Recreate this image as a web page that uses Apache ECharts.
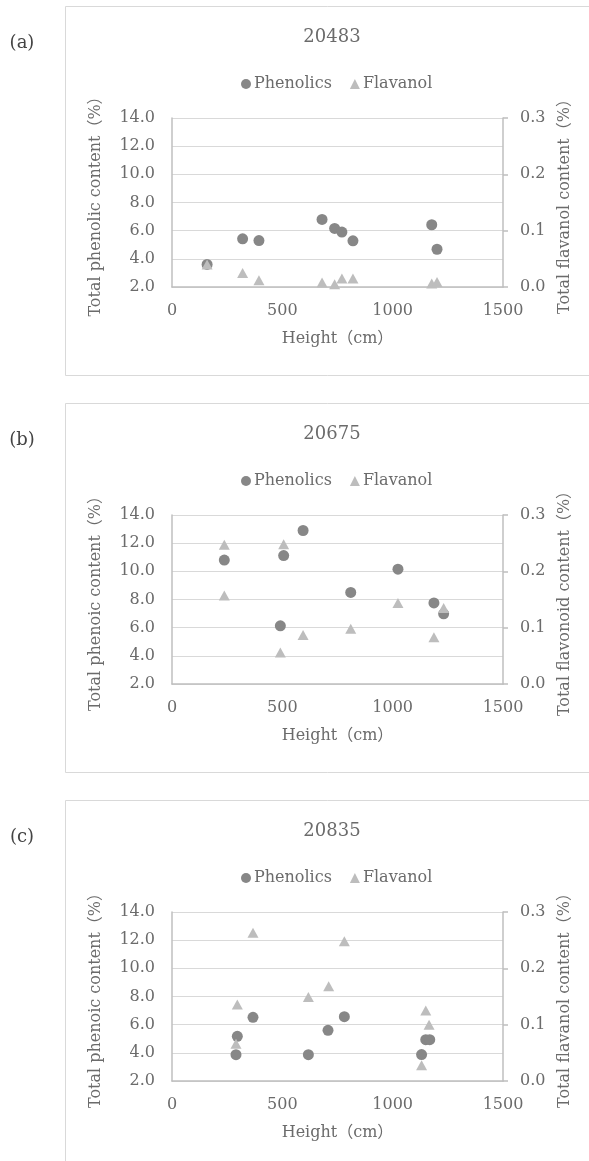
<!DOCTYPE html>
<html>
<head>
<meta charset="utf-8">
<script src="https://cdn.jsdelivr.net/npm/echarts@6/dist/echarts.min.js"></script>
<style>
html,body{margin:0;padding:0;background:#fff;}
#chart{width:589px;height:1161px;}
</style>
</head>
<body>
<div id="chart"></div>
<script>
// ---- data ----
const panelLabels = ['(a)', '(b)', '(c)'];
const panelTitles = ['20483', '20675', '20835'];
const leftAxisNames = ['Total phenolic content（%）', 'Total phenoic content（%）', 'Total phenoic content（%）'];
const rightAxisNames = ['Total flavanol content（%）', 'Total flavonoid content（%）', 'Total flavanol content（%）'];
const xAxisName = 'Height（cm）';
const seriesNames = ['Phenolics', 'Flavanol'];

const xTicks = [0, 500, 1000, 1500];
const leftTicks = ['2.0', '4.0', '6.0', '8.0', '10.0', '12.0', '14.0'];
const rightTicks = ['0.0', '0.1', '0.2', '0.3'];

// (a) 20483
const heightsPhenA = [159, 320, 394, 680, 737, 770, 820, 1177, 1201];
const phenolicsA   = [3.6, 5.42, 5.3, 6.8, 6.16, 5.9, 5.28, 6.42, 4.68];
const heightsFlavA = [159, 320, 394, 680, 737, 770, 820, 1177, 1201];
const flavanolA    = [0.040, 0.025, 0.012, 0.008, 0.005, 0.015, 0.015, 0.006, 0.009];

// (b) 20675
const heightsPhenB = [237, 491, 506, 594, 810, 1024, 1187, 1231];
const phenolicsB   = [10.8, 6.13, 11.12, 12.9, 8.5, 10.15, 7.76, 6.98];
const heightsFlavB = [237, 237, 491, 506, 594, 810, 1024, 1187, 1231];
const flavanolB    = [0.247, 0.157, 0.056, 0.248, 0.087, 0.098, 0.144, 0.083, 0.135];

// (c) 20835
const heightsPhenC = [290, 296, 367, 618, 707, 781, 1131, 1150, 1168];
const phenolicsC   = [3.87, 5.17, 6.52, 3.87, 5.6, 6.57, 3.88, 4.93, 4.93];
const heightsFlavC = [290, 296, 367, 618, 710, 781, 1131, 1150, 1165];
const flavanolC    = [0.066, 0.136, 0.263, 0.149, 0.168, 0.248, 0.028, 0.125, 0.100];

const panels = [
  { hp: heightsPhenA, p: phenolicsA, hf: heightsFlavA, f: flavanolA },
  { hp: heightsPhenB, p: phenolicsB, hf: heightsFlavB, f: flavanolB },
  { hp: heightsPhenC, p: phenolicsC, hf: heightsFlavC, f: flavanolC }
];

// ---- styles ----
const FONT = "'DejaVu Serif', 'Noto Sans CJK JP', serif";
const TXT = '#6b6b6b';
const PHEN_COLOR = '#878787';
const FLAV_COLOR = '#bdbdbd';
const AXIS_COLOR = '#bfbfbf';
const GRID_COLOR = '#d9d9d9';
const STEP = 397;

const chart = echarts.init(document.getElementById('chart'), null, { renderer: 'canvas' });

const grids = [], xAxes = [], yAxes = [], series = [], legends = [], graphics = [];

panels.forEach((pn, i) => {
  const off = STEP * i;
  // frame
  graphics.push({
    type: 'rect', silent: true, z: -10,
    shape: { x: 65.5, y: 6.5 + off, width: 540, height: 369 },
    style: { fill: '#fff', stroke: GRID_COLOR, lineWidth: 1 }
  });
  graphics.push({
    type: 'text', silent: true,
    x: 22, y: 43 + off,
    style: { text: panelLabels[i], font: '18px ' + FONT, fill: '#444', align: 'center', verticalAlign: 'middle' }
  });
  graphics.push({
    type: 'text', silent: true,
    x: 332, y: 37 + off,
    style: { text: panelTitles[i], font: '18px ' + FONT, fill: TXT, align: 'center', verticalAlign: 'middle' }
  });

  grids.push({ left: 172, right: 86, top: 118 + off, height: 169, containLabel: false });

  const lMin = parseFloat(leftTicks[0]), lMax = parseFloat(leftTicks[leftTicks.length - 1]);
  const lInt = parseFloat(leftTicks[1]) - lMin;
  const rMin = parseFloat(rightTicks[0]), rMax = parseFloat(rightTicks[rightTicks.length - 1]);
  const rInt = parseFloat(rightTicks[1]) - rMin;

  xAxes.push({
    type: 'value', gridIndex: i,
    min: xTicks[0], max: xTicks[xTicks.length - 1], interval: xTicks[1] - xTicks[0],
    name: xAxisName, nameLocation: 'middle', nameGap: 44,
    nameTextStyle: { fontFamily: FONT, fontSize: 16, color: TXT },
    axisLine: { show: true, lineStyle: { color: AXIS_COLOR, width: 1.5 } },
    axisTick: { show: false },
    splitLine: { show: false },
    axisLabel: { fontFamily: FONT, fontSize: 16, color: TXT, margin: 16,
      formatter: v => String(v) }
  });
  yAxes.push({
    type: 'value', gridIndex: i, position: 'left',
    min: lMin, max: lMax, interval: lInt,
    name: leftAxisNames[i], nameLocation: 'middle', nameGap: 68,
    nameTextStyle: { fontFamily: FONT, fontSize: 16, color: TXT },
    axisLine: { show: true, lineStyle: { color: AXIS_COLOR, width: 1.5 } },
    axisTick: { show: false },
    splitLine: { show: true, lineStyle: { color: GRID_COLOR, width: 1 } },
    axisLabel: { fontFamily: FONT, fontSize: 16, color: TXT, margin: 17,
      formatter: v => v.toFixed(1) }
  });
  yAxes.push({
    type: 'value', gridIndex: i, position: 'right',
    min: rMin, max: rMax, interval: rInt,
    name: rightAxisNames[i], nameLocation: 'middle', nameGap: 53,
    nameTextStyle: { fontFamily: FONT, fontSize: 16, color: TXT },
    axisLine: { show: true, lineStyle: { color: AXIS_COLOR, width: 1.5 } },
    axisTick: { show: true, inside: false, length: 5, lineStyle: { color: AXIS_COLOR, width: 1.5 } },
    splitLine: { show: false },
    axisLabel: { fontFamily: FONT, fontSize: 16, color: TXT, margin: 17,
      formatter: v => v.toFixed(1) }
  });

  series.push({
    name: seriesNames[0], type: 'scatter', xAxisIndex: i, yAxisIndex: 2 * i,
    symbol: 'circle', symbolSize: 11, z: 2,
    itemStyle: { color: PHEN_COLOR, opacity: 1 },
    data: pn.hp.map((h, k) => [h, pn.p[k]])
  });
  series.push({
    name: seriesNames[1], type: 'scatter', xAxisIndex: i, yAxisIndex: 2 * i + 1,
    symbol: 'triangle', symbolSize: [11, 10], z: 3,
    itemStyle: { color: FLAV_COLOR, opacity: 1 },
    data: pn.hf.map((h, k) => [h, pn.f[k]])
  });

  legends.push({
    left: 236, top: 71 + off,
    orient: 'horizontal', itemGap: 18, itemWidth: 10, itemHeight: 10,
    selectedMode: false,
    textStyle: { fontFamily: FONT, fontSize: 16, color: TXT, padding: [0, 0, 0, -2] },
    data: [
      { name: seriesNames[0], icon: 'circle', itemStyle: { color: PHEN_COLOR } },
      { name: seriesNames[1], icon: 'triangle', itemStyle: { color: FLAV_COLOR } }
    ]
  });
});

chart.setOption({
  backgroundColor: '#fff',
  animation: false,
  graphic: { elements: graphics },
  legend: legends,
  grid: grids,
  xAxis: xAxes,
  yAxis: yAxes,
  series: series
});
</script>
</body>
</html>
